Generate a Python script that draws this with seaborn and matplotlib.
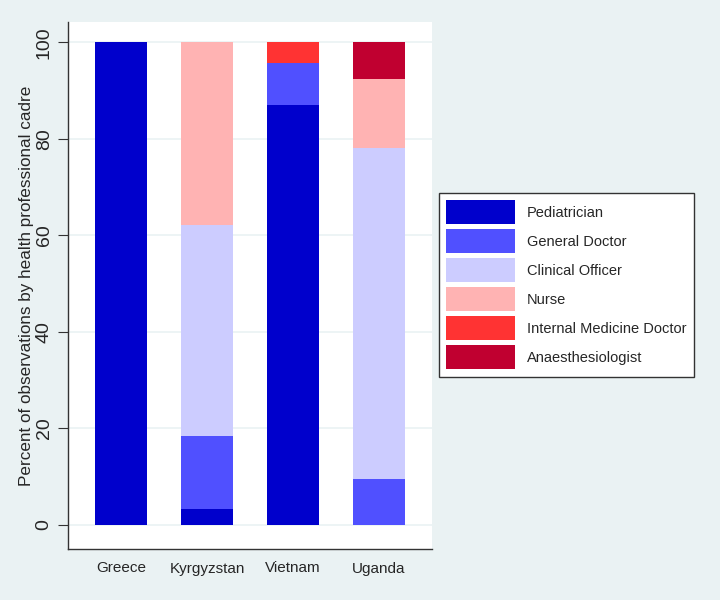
import matplotlib
matplotlib.use("Agg")
import matplotlib.pyplot as plt
import seaborn as sns
import pandas as pd
import numpy as np
from matplotlib.patches import Patch

countries = ["Greece", "Kyrgyzstan", "Vietnam", "Uganda"]
cadres = ["Pediatrician", "General Doctor", "Clinical Officer", "Nurse",
          "Internal Medicine Doctor", "Anaesthesiologist"]
pediatrician = [100.0, 3.3, 87.1, 0.0]
general_doctor = [0.0, 15.2, 8.7, 9.5]
clinical_officer = [0.0, 43.6, 0.0, 68.6]
nurse = [0.0, 37.9, 0.0, 14.3]
internal_medicine = [0.0, 0.0, 4.2, 0.0]
anaesthesiologist = [0.0, 0.0, 0.0, 7.6]
colors = ["#0000CC", "#5050FF", "#CCCCFF", "#FFB3B3", "#FF3333", "#C00030"]

series = [pediatrician, general_doctor, clinical_officer, nurse,
          internal_medicine, anaesthesiologist]

bg = "#EAF2F3"
sns.set_theme(style="white")
plt.rcParams["font.family"] = ["Liberation Sans", "DejaVu Sans"]

fig = plt.figure(figsize=(7.2, 6), dpi=100, facecolor=bg)
ax = fig.add_axes([68/720, 1-549/600, (432-68)/720, (549-22)/600])
ax.set_facecolor("white")

cum = np.cumsum(np.array(series), axis=0)
for i in range(len(cadres) - 1, -1, -1):
    df = pd.DataFrame({"country": countries, "value": cum[i]})
    sns.barplot(data=df, x="country", y="value", order=countries, color=colors[i],
                saturation=1, width=0.6, ax=ax, linewidth=0, zorder=2)

ax.set_ylim(-5.0, 104.2)
ax.set_xlim(-0.616, 3.616)
ax.set_yticks([0, 20, 40, 60, 80, 100])
ax.set_yticklabels(["0", "20", "40", "60", "80", "100"], rotation=90, va="center", fontsize=14)
ax.tick_params(axis="y", length=7, width=0.8, color="#333333", left=True, pad=4)
ax.tick_params(axis="x", length=0, labelsize=11, pad=9)
ax.grid(axis="y", color=bg, linewidth=1.2, zorder=0)
ax.set_axisbelow(True)
ax.set_xlabel("")
ax.set_ylabel("Percent of observations by health professional cadre", fontsize=12.3, labelpad=1.5)
for s in ["top", "right"]:
    ax.spines[s].set_visible(False)
for s in ["left", "bottom"]:
    ax.spines[s].set_color("#333333")
    ax.spines[s].set_linewidth(1.0)

handles = [Patch(facecolor=c, edgecolor="none") for c in colors]
leg = fig.legend(handles, cadres, loc="upper left", bbox_to_anchor=(439/720, 1-193/600),
                 frameon=True, fancybox=False, fontsize=10.5, handlelength=4.73,
                 handleheight=2.16, labelspacing=0.34, borderpad=0.5, handletextpad=0.82,
                 borderaxespad=0, framealpha=1)
leg.get_frame().set_edgecolor("#333333")
leg.get_frame().set_facecolor("white")
leg.get_frame().set_linewidth(1.0)

fig.savefig("out.png", dpi=100, facecolor=bg)
